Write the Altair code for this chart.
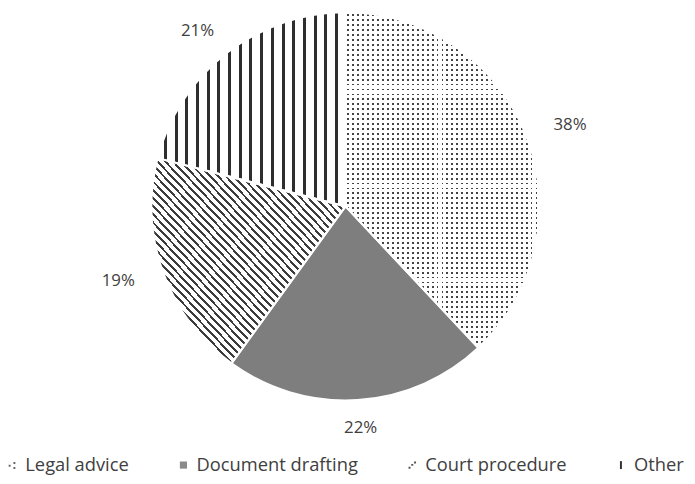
import math
from itertools import accumulate

import altair as alt
import pandas as pd

# ---- data -------------------------------------------------------------
categories = ["Legal advice", "Document drafting", "Court procedure", "Other"]
shares = [38, 22, 19, 21]
labels = ["38%", "22%", "19%", "21%"]

ends = list(accumulate(shares))
starts = [e - s for e, s in zip(ends, shares)]
df = pd.DataFrame({"category": categories, "share": shares, "label": labels,
                   "start": starts, "end": ends})

# ---- geometry / style -------------------------------------------------
W, H = 686, 468
CX, CY, R = 341, 198, 196
TEXT = "#404040"
FONT = "Open Sans"
WHITE = "#ffffff"
CLEAR = "rgba(255,255,255,0)"
theta_scale = alt.Scale(domain=[0, 100], range=[0, 2 * math.pi])


def stripes(length, period, dark_w, first, dark, light, x1=0, y1=0, x2=1, y2=0):
    """Hard-edged linear gradient producing stripes (pattern fill)."""
    stops = [{"offset": 0, "color": light}]
    pos = first
    while pos > 0:
        pos -= period
    while pos < length:
        a = max(pos, 0) / length
        b = min(pos + dark_w, length) / length
        if b > a:
            stops += [{"offset": round(a, 5), "color": light},
                      {"offset": round(a, 5), "color": dark},
                      {"offset": round(b, 5), "color": dark},
                      {"offset": round(b, 5), "color": light}]
        pos += period
    stops.append({"offset": 1, "color": light})
    return {"gradient": "linear", "x1": x1, "y1": y1, "x2": x2, "y2": y2, "stops": stops}


def inv_stripes(length, period, gap_w, first, x1=0, y1=0, x2=1, y2=0):
    """White overlay with transparent gaps (used twice to leave dots)."""
    return stripes(length, period, gap_w, first, CLEAR, WHITE, x1, y1, x2, y2)


# bounding boxes of each slice (slices go clockwise from 12 o'clock)
legal_w, legal_h = R, R * (1 + 0.7294)
other_w = R * 0.9686
court_w, court_h = R, R * 1.058
court_len = 1 / (0.5 * math.sqrt(1 / court_w ** 2 + 1 / court_h ** 2))


def slice_chart(cat, fill):
    return alt.Chart(df).transform_filter(alt.datum.category == cat).mark_arc(
        radius=R, fill=fill
    ).encode(
        theta=alt.Theta("start:Q", scale=theta_scale, stack=False),
        theta2="end:Q",
        x=alt.value(CX), y=alt.value(CY),
    )


layers = [
    # Legal advice: dotted
    slice_chart("Legal advice", "#444444"),
    slice_chart("Legal advice", inv_stripes(legal_w, 5.0, 1.9, 2.0)),
    slice_chart("Legal advice", inv_stripes(legal_h, 5.0, 1.9, 2.0, 0, 0, 0, 1)),
    # Document drafting: fine checker (reads as mid grey)
    slice_chart("Document drafting", "#7e7e7e"),
    # Court procedure: diagonal stripes
    slice_chart("Court procedure",
                stripes(court_len, 5.7, 2.0, 1.0, "#3c3c3c", WHITE, 0, 1, 1, 0)),
    # Other: vertical stripes
    slice_chart("Other", stripes(other_w, 10.8, 3.0, 6.4, "#2e2e2e", WHITE)),
]

outline = alt.Chart(df).mark_arc(
    radius=R, fillOpacity=0, stroke="white", strokeWidth=2
).encode(
    theta=alt.Theta("start:Q", scale=theta_scale, stack=False),
    theta2="end:Q",
    x=alt.value(CX), y=alt.value(CY),
)

# labels sit outside each slice, on a slightly wider-than-tall ellipse
text = alt.Chart(df).transform_calculate(
    ang="(datum.start + datum.end) / 100 * PI"
).transform_calculate(
    lx=f"{CX} + 244 * sin(datum.ang)",
    ly=f"{CY} - 224 * cos(datum.ang)",
).mark_text(font=FONT, fontSize=17, color=TEXT, align="center", baseline="middle").encode(
    x=alt.X("lx:Q", scale=None, axis=None),
    y=alt.Y("ly:Q", scale=None, axis=None),
    text="label:N",
)

legend_paths = [
    "M-0.9,-0.1h0.5v0.5h-0.5z M0.3,-0.8h0.5v0.5h-0.5z M0.3,0.5h0.5v0.5h-0.5z",
    "M-0.9,-0.9h1.8v1.8h-1.8z",
    "M-0.9,0.4h0.5v0.5h-0.5z M-0.2,-0.3h0.5v0.5h-0.5z M0.5,-0.9h0.5v0.5h-0.5z",
    "M-0.25,-1h0.5v2h-0.5z",
]
legend_cols = ["#6a6a6a", "#8a8a8a", "#555555", "#333333"]

leg = alt.Legend(
    title=None, orient="none", legendX=-5, legendY=450, direction="horizontal",
    labelFont=FONT, labelFontSize=18.5, labelColor=TEXT, symbolSize=64,
    labelOffset=4, columnPadding=45, symbolStrokeWidth=0, symbolOpacity=1,
    labelLimit=300,
)
legend_layer = alt.Chart(df).transform_filter("datum.share < 0").mark_point(
    filled=True
).encode(
    color=alt.Color("category:N", scale=alt.Scale(domain=categories, range=legend_cols), legend=leg),
    shape=alt.Shape("category:N", scale=alt.Scale(domain=categories, range=legend_paths), legend=leg),
)

chart = alt.layer(*layers, outline, text, legend_layer).properties(
    width=W, height=H, padding=0, autosize=alt.AutoSizeParams(type="none")
).configure_view(stroke=None)

chart.save("out.html", embed_options={"renderer": "svg", "actions": False})
